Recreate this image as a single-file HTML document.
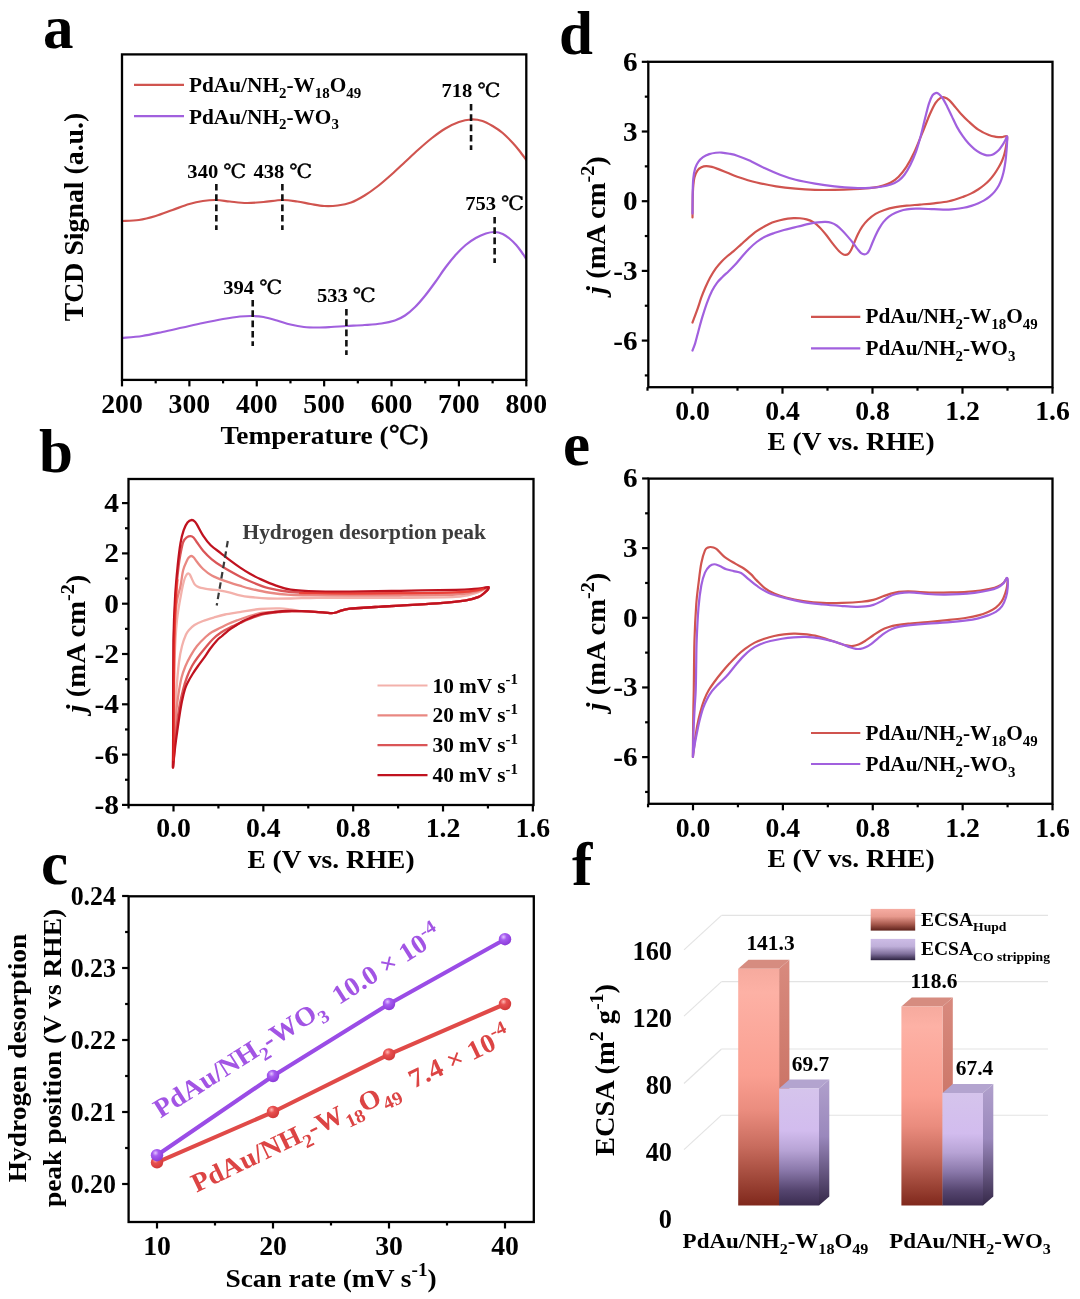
<!DOCTYPE html>
<html lang="en"><head><meta charset="utf-8"><title>Figure</title>
<style>html,body{margin:0;padding:0;background:#fff}svg{display:block}text{font-family:"Liberation Serif", "DejaVu Serif", serif}</style>
</head><body>
<svg width="1080" height="1299" viewBox="0 0 1080 1299">
<rect width="1080" height="1299" fill="#fff"/>
<text transform="translate(43.00 48.30) scale(1.0000 1)" font-size="61.00" text-anchor="start" fill="#000" font-weight="bold" >a</text>
<clipPath id="clipa"><rect x="122.0" y="54.4" width="404.3" height="325.5"/></clipPath>
<g clip-path="url(#clipa)">
<path d="M122.00 221.00C124.81 220.83 133.23 220.83 138.85 220.00C144.46 219.17 150.08 217.67 155.69 216.00C161.31 214.33 166.92 212.00 172.54 210.00C178.15 208.00 184.33 205.50 189.38 204.00C194.44 202.50 198.37 201.67 202.86 201.00C207.35 200.33 211.84 199.92 216.34 200.00C220.83 200.08 224.76 201.00 229.81 201.50C234.87 202.00 241.04 202.92 246.66 203.00C252.27 203.08 257.55 202.50 263.50 202.00C269.46 201.50 276.76 200.08 282.37 200.00C287.99 199.92 292.48 200.83 297.20 201.50C301.91 202.17 306.18 203.25 310.67 204.00C315.17 204.75 319.66 205.75 324.15 206.00C328.64 206.25 333.13 206.08 337.63 205.50C342.12 204.92 346.61 204.17 351.10 202.50C355.60 200.83 360.09 198.25 364.58 195.50C369.07 192.75 373.56 189.50 378.06 186.00C382.55 182.50 387.04 178.50 391.53 174.50C396.03 170.50 400.52 166.17 405.01 162.00C409.50 157.83 413.99 153.50 418.49 149.50C422.98 145.50 427.47 141.50 431.96 138.00C436.46 134.50 440.95 131.17 445.44 128.50C449.93 125.83 454.65 123.50 458.92 122.00C463.18 120.50 467.11 119.67 471.05 119.50C474.98 119.33 478.91 119.92 482.50 121.00C486.09 122.08 489.24 124.00 492.61 126.00C495.98 128.00 499.35 130.17 502.72 133.00C506.08 135.83 510.02 140.00 512.82 143.00C515.63 146.00 517.32 148.17 519.56 151.00C521.81 153.83 525.18 158.50 526.30 160.00" fill="none" stroke="#d0544f" stroke-width="2.20" stroke-linejoin="round" stroke-linecap="round" />
<path d="M122.00 338.00C125.37 337.67 135.48 337.00 142.22 336.00C148.95 335.00 155.69 333.42 162.43 332.00C169.17 330.58 175.91 329.00 182.64 327.50C189.38 326.00 196.12 324.42 202.86 323.00C209.60 321.58 216.90 320.08 223.07 319.00C229.25 317.92 234.98 317.00 239.92 316.50C244.86 316.00 248.79 315.92 252.72 316.00C256.65 316.08 259.46 316.25 263.50 317.00C267.55 317.75 272.49 319.25 276.98 320.50C281.47 321.75 285.97 323.42 290.46 324.50C294.95 325.58 299.44 326.50 303.93 327.00C308.43 327.50 312.92 327.50 317.41 327.50C321.90 327.50 326.06 327.25 330.89 327.00C335.72 326.75 340.77 326.33 346.39 326.00C352.00 325.67 358.74 325.42 364.58 325.00C370.42 324.58 376.37 324.25 381.43 323.50C386.48 322.75 390.97 321.83 394.90 320.50C398.83 319.17 401.64 317.75 405.01 315.50C408.38 313.25 411.75 310.33 415.12 307.00C418.49 303.67 421.86 299.67 425.22 295.50C428.59 291.33 431.96 286.67 435.33 282.00C438.70 277.33 442.07 272.00 445.44 267.50C448.81 263.00 452.18 258.75 455.55 255.00C458.92 251.25 462.29 247.83 465.65 245.00C469.02 242.17 472.39 239.92 475.76 238.00C479.13 236.08 482.73 234.50 485.87 233.50C489.01 232.50 491.82 231.92 494.63 232.00C497.44 232.08 500.25 232.92 502.72 234.00C505.19 235.08 507.21 236.67 509.45 238.50C511.70 240.33 514.17 242.75 516.19 245.00C518.21 247.25 519.90 249.67 521.58 252.00C523.27 254.33 525.51 257.83 526.30 259.00" fill="none" stroke="#a160de" stroke-width="2.20" stroke-linejoin="round" stroke-linecap="round" />
</g>
<line x1="216.34" y1="184.00" x2="216.34" y2="230.00" stroke="#111" stroke-width="2.60" stroke-dasharray="6.6 3.7"/>
<line x1="282.37" y1="184.00" x2="282.37" y2="230.00" stroke="#111" stroke-width="2.60" stroke-dasharray="6.6 3.7"/>
<line x1="471.05" y1="104.00" x2="471.05" y2="150.00" stroke="#111" stroke-width="2.60" stroke-dasharray="6.6 3.7"/>
<line x1="494.63" y1="217.00" x2="494.63" y2="263.00" stroke="#111" stroke-width="2.60" stroke-dasharray="6.6 3.7"/>
<line x1="252.72" y1="300.00" x2="252.72" y2="346.00" stroke="#111" stroke-width="2.60" stroke-dasharray="6.6 3.7"/>
<line x1="346.39" y1="309.00" x2="346.39" y2="355.00" stroke="#111" stroke-width="2.60" stroke-dasharray="6.6 3.7"/>
<text transform="translate(216.84 178.00) scale(1.0550 1)" font-size="19.50" text-anchor="middle" fill="#000" font-weight="bold" >340 <tspan font-weight="normal" stroke="#000" stroke-width="0.35">℃</tspan></text>
<text transform="translate(282.87 178.00) scale(1.0550 1)" font-size="19.50" text-anchor="middle" fill="#000" font-weight="bold" >438 <tspan font-weight="normal" stroke="#000" stroke-width="0.35">℃</tspan></text>
<text transform="translate(471.05 97.00) scale(1.0550 1)" font-size="19.50" text-anchor="middle" fill="#000" font-weight="bold" >718 <tspan font-weight="normal" stroke="#000" stroke-width="0.35">℃</tspan></text>
<text transform="translate(494.63 210.00) scale(1.0550 1)" font-size="19.50" text-anchor="middle" fill="#000" font-weight="bold" >753 <tspan font-weight="normal" stroke="#000" stroke-width="0.35">℃</tspan></text>
<text transform="translate(252.72 294.00) scale(1.0550 1)" font-size="19.50" text-anchor="middle" fill="#000" font-weight="bold" >394 <tspan font-weight="normal" stroke="#000" stroke-width="0.35">℃</tspan></text>
<text transform="translate(346.39 302.00) scale(1.0550 1)" font-size="19.50" text-anchor="middle" fill="#000" font-weight="bold" >533 <tspan font-weight="normal" stroke="#000" stroke-width="0.35">℃</tspan></text>
<line x1="134.00" y1="84.80" x2="184.00" y2="84.80" stroke="#d0544f" stroke-width="2.20" />
<line x1="134.00" y1="116.20" x2="184.00" y2="116.20" stroke="#a160de" stroke-width="2.20" />
<text transform="translate(189.00 92.00) scale(1.0550 1)" font-size="20.20" text-anchor="start" fill="#000" font-weight="bold" >PdAu/NH<tspan dy="5.76" font-size="14.14">2</tspan><tspan dy="-5.76">-W</tspan><tspan dy="5.76" font-size="14.14">18</tspan><tspan dy="-5.76">O</tspan><tspan dy="5.76" font-size="14.14">49</tspan></text>
<text transform="translate(189.00 123.50) scale(1.0550 1)" font-size="20.20" text-anchor="start" fill="#000" font-weight="bold" >PdAu/NH<tspan dy="5.76" font-size="14.14">2</tspan><tspan dy="-5.76">-WO</tspan><tspan dy="5.76" font-size="14.14">3</tspan></text>
<rect x="122.00" y="54.40" width="404.30" height="325.50" fill="none" stroke="#000" stroke-width="2.30"/>
<line x1="122.00" y1="379.90" x2="122.00" y2="386.40" stroke="#000" stroke-width="2.20" />
<line x1="189.38" y1="379.90" x2="189.38" y2="386.40" stroke="#000" stroke-width="2.20" />
<line x1="256.77" y1="379.90" x2="256.77" y2="386.40" stroke="#000" stroke-width="2.20" />
<line x1="324.15" y1="379.90" x2="324.15" y2="386.40" stroke="#000" stroke-width="2.20" />
<line x1="391.53" y1="379.90" x2="391.53" y2="386.40" stroke="#000" stroke-width="2.20" />
<line x1="458.92" y1="379.90" x2="458.92" y2="386.40" stroke="#000" stroke-width="2.20" />
<line x1="526.30" y1="379.90" x2="526.30" y2="386.40" stroke="#000" stroke-width="2.20" />
<line x1="155.69" y1="379.90" x2="155.69" y2="383.40" stroke="#000" stroke-width="2.20" />
<line x1="223.07" y1="379.90" x2="223.07" y2="383.40" stroke="#000" stroke-width="2.20" />
<line x1="290.46" y1="379.90" x2="290.46" y2="383.40" stroke="#000" stroke-width="2.20" />
<line x1="357.84" y1="379.90" x2="357.84" y2="383.40" stroke="#000" stroke-width="2.20" />
<line x1="425.22" y1="379.90" x2="425.22" y2="383.40" stroke="#000" stroke-width="2.20" />
<line x1="492.61" y1="379.90" x2="492.61" y2="383.40" stroke="#000" stroke-width="2.20" />
<text transform="translate(122.00 413.00) scale(1.0550 1)" font-size="26.30" text-anchor="middle" fill="#000" font-weight="bold" >200</text>
<text transform="translate(189.38 413.00) scale(1.0550 1)" font-size="26.30" text-anchor="middle" fill="#000" font-weight="bold" >300</text>
<text transform="translate(256.77 413.00) scale(1.0550 1)" font-size="26.30" text-anchor="middle" fill="#000" font-weight="bold" >400</text>
<text transform="translate(324.15 413.00) scale(1.0550 1)" font-size="26.30" text-anchor="middle" fill="#000" font-weight="bold" >500</text>
<text transform="translate(391.53 413.00) scale(1.0550 1)" font-size="26.30" text-anchor="middle" fill="#000" font-weight="bold" >600</text>
<text transform="translate(458.92 413.00) scale(1.0550 1)" font-size="26.30" text-anchor="middle" fill="#000" font-weight="bold" >700</text>
<text transform="translate(526.30 413.00) scale(1.0550 1)" font-size="26.30" text-anchor="middle" fill="#000" font-weight="bold" >800</text>
<text transform="translate(324.50 443.50) scale(1.0550 1)" font-size="26.00" text-anchor="middle" fill="#000" font-weight="bold" >Temperature (<tspan font-weight="normal" stroke="#000" stroke-width="0.35">℃</tspan>)</text>
<text transform="translate(83.00 217.00) rotate(-90.00) scale(1.0300 1)" font-size="27.00" text-anchor="middle" fill="#000" font-weight="bold" >TCD Signal (a.u.)</text>
<text transform="translate(39.00 471.50) scale(1.0000 1)" font-size="61.00" text-anchor="start" fill="#000" font-weight="bold" >b</text>
<path d="M173.00 767.50C173.15 759.58 173.63 737.92 173.90 720.00C174.17 702.08 174.08 676.67 174.60 660.00C175.12 643.33 175.83 631.40 177.00 620.00C178.17 608.60 180.38 598.30 181.60 591.60C182.82 584.90 183.48 582.60 184.30 579.80C185.12 577.00 185.85 575.88 186.50 574.80C187.15 573.72 187.65 573.35 188.20 573.30C188.75 573.25 189.28 573.78 189.80 574.50C190.32 575.22 190.52 576.00 191.30 577.60C192.08 579.20 193.47 582.62 194.50 584.10C195.53 585.58 196.42 585.87 197.50 586.50C198.58 587.13 198.80 587.40 201.00 587.90C203.20 588.40 207.47 589.05 210.70 589.50C213.93 589.95 217.17 590.07 220.40 590.60C223.63 591.13 226.87 591.90 230.10 592.70C233.33 593.50 236.48 594.68 239.80 595.40C243.12 596.12 245.22 596.48 250.00 597.00C254.78 597.52 261.72 598.25 268.50 598.50C275.28 598.75 282.67 598.62 290.70 598.50C298.73 598.38 306.82 597.92 316.70 597.80C326.58 597.68 336.12 597.80 350.00 597.80C363.88 597.80 382.40 597.95 400.00 597.80C417.60 597.65 443.27 597.60 455.60 596.90C467.93 596.20 469.38 594.75 474.00 593.60C478.62 592.45 480.90 591.08 483.30 590.00C485.70 588.92 487.65 587.17 488.40 587.10C489.15 587.03 488.33 588.75 487.80 589.60C487.27 590.45 486.72 590.98 485.20 592.20C483.68 593.42 482.10 595.50 478.70 596.90C475.30 598.30 471.75 599.53 464.80 600.60C457.85 601.67 447.80 602.47 437.00 603.30C426.20 604.13 409.73 605.02 400.00 605.60C390.27 606.18 385.27 606.40 378.60 606.80C371.93 607.20 364.77 607.68 360.00 608.00C355.23 608.32 353.17 608.27 350.00 608.70C346.83 609.13 343.33 609.97 341.00 610.60C338.67 611.23 337.58 612.07 336.00 612.50C334.42 612.93 333.33 613.18 331.50 613.20C329.67 613.22 327.75 612.83 325.00 612.60C322.25 612.37 318.83 612.03 315.00 611.80C311.17 611.57 306.17 611.62 302.00 611.20C297.83 610.78 293.73 609.77 290.00 609.30C286.27 608.83 284.60 608.45 279.60 608.40C274.60 608.35 266.63 608.38 260.00 609.00C253.37 609.62 245.63 611.18 239.80 612.10C233.97 613.02 229.32 613.60 225.00 614.50C220.68 615.40 217.57 616.42 213.90 617.50C210.23 618.58 206.23 619.75 203.00 621.00C199.77 622.25 196.83 623.50 194.50 625.00C192.17 626.50 190.43 628.37 189.00 630.00C187.57 631.63 187.07 632.13 185.90 634.80C184.73 637.47 183.15 641.47 182.00 646.00C180.85 650.53 179.92 654.67 179.00 662.00C178.08 669.33 177.25 678.67 176.50 690.00C175.75 701.33 175.08 717.08 174.50 730.00C173.92 742.92 173.25 761.25 173.00 767.50" fill="none" stroke="#f3b1ab" stroke-width="2.30" stroke-linejoin="round" stroke-linecap="round" />
<path d="M173.00 767.50C173.12 759.58 173.50 741.25 173.70 720.00C173.90 698.75 173.73 659.33 174.20 640.00C174.67 620.67 175.45 613.00 176.50 604.00C177.55 595.00 179.38 591.67 180.50 586.00C181.62 580.33 182.12 574.27 183.20 570.00C184.28 565.73 186.03 562.52 187.00 560.40C187.97 558.28 188.28 558.03 189.00 557.30C189.72 556.57 190.50 555.97 191.30 556.00C192.10 556.03 192.90 556.58 193.80 557.50C194.70 558.42 195.15 559.58 196.70 561.50C198.25 563.42 200.58 566.67 203.10 569.00C205.62 571.33 208.20 573.52 211.80 575.50C215.40 577.48 220.03 579.20 224.70 580.90C229.37 582.60 235.58 584.42 239.80 585.70C244.02 586.98 245.22 587.47 250.00 588.60C254.78 589.73 261.72 591.47 268.50 592.50C275.28 593.53 282.67 594.33 290.70 594.80C298.73 595.27 306.82 595.18 316.70 595.30C326.58 595.42 336.12 595.47 350.00 595.50C363.88 595.53 382.40 595.65 400.00 595.50C417.60 595.35 443.27 595.17 455.60 594.60C467.93 594.03 469.38 592.97 474.00 592.10C478.62 591.23 480.90 590.23 483.30 589.40C485.70 588.57 487.65 587.07 488.40 587.10C489.15 587.13 488.33 588.75 487.80 589.60C487.27 590.45 486.72 590.98 485.20 592.20C483.68 593.42 482.10 595.50 478.70 596.90C475.30 598.30 471.75 599.53 464.80 600.60C457.85 601.67 447.80 602.47 437.00 603.30C426.20 604.13 409.73 605.02 400.00 605.60C390.27 606.18 385.27 606.40 378.60 606.80C371.93 607.20 364.77 607.68 360.00 608.00C355.23 608.32 353.17 608.27 350.00 608.70C346.83 609.13 343.33 609.97 341.00 610.60C338.67 611.23 337.58 612.07 336.00 612.50C334.42 612.93 333.33 613.18 331.50 613.20C329.67 613.22 327.75 612.83 325.00 612.60C322.25 612.37 318.83 612.03 315.00 611.80C311.17 611.57 306.50 611.30 302.00 611.20C297.50 611.10 292.50 611.12 288.00 611.20C283.50 611.28 279.50 611.40 275.00 611.70C270.50 612.00 265.50 612.20 261.00 613.00C256.50 613.80 252.00 615.27 248.00 616.50C244.00 617.73 240.33 619.15 237.00 620.40C233.67 621.65 230.77 622.77 228.00 624.00C225.23 625.23 223.07 626.47 220.40 627.80C217.73 629.13 214.47 630.47 212.00 632.00C209.53 633.53 208.10 634.67 205.60 637.00C203.10 639.33 199.48 642.90 197.00 646.00C194.52 649.10 192.62 652.27 190.70 655.60C188.78 658.93 187.03 662.30 185.50 666.00C183.97 669.70 182.67 673.13 181.50 677.80C180.33 682.47 179.42 687.97 178.50 694.00C177.58 700.03 176.67 706.00 176.00 714.00C175.33 722.00 175.00 733.08 174.50 742.00C174.00 750.92 173.25 763.25 173.00 767.50" fill="none" stroke="#e98882" stroke-width="2.30" stroke-linejoin="round" stroke-linecap="round" />
<path d="M173.00 767.50C173.07 759.58 173.27 741.25 173.40 720.00C173.53 698.75 173.43 660.50 173.80 640.00C174.17 619.50 174.82 609.17 175.60 597.00C176.38 584.83 177.68 574.18 178.50 567.00C179.32 559.82 179.72 558.07 180.50 553.90C181.28 549.73 182.15 544.77 183.20 542.00C184.25 539.23 185.55 538.28 186.80 537.30C188.05 536.32 189.58 536.07 190.70 536.10C191.82 536.13 192.50 536.52 193.50 537.50C194.50 538.48 195.10 539.80 196.70 542.00C198.30 544.20 200.58 547.82 203.10 550.70C205.62 553.58 208.57 556.62 211.80 559.30C215.03 561.98 217.83 563.93 222.50 566.80C227.17 569.67 235.22 574.08 239.80 576.50C244.38 578.92 245.22 579.35 250.00 581.30C254.78 583.25 261.72 586.42 268.50 588.20C275.28 589.98 282.67 591.20 290.70 592.00C298.73 592.80 306.82 592.78 316.70 593.00C326.58 593.22 336.12 593.27 350.00 593.30C363.88 593.33 382.40 593.37 400.00 593.20C417.60 593.03 443.27 592.73 455.60 592.30C467.93 591.87 469.38 591.20 474.00 590.60C478.62 590.00 480.90 589.28 483.30 588.70C485.70 588.12 487.65 586.95 488.40 587.10C489.15 587.25 488.33 588.75 487.80 589.60C487.27 590.45 486.72 590.98 485.20 592.20C483.68 593.42 482.10 595.50 478.70 596.90C475.30 598.30 471.75 599.53 464.80 600.60C457.85 601.67 447.80 602.47 437.00 603.30C426.20 604.13 409.73 605.02 400.00 605.60C390.27 606.18 385.27 606.40 378.60 606.80C371.93 607.20 364.77 607.68 360.00 608.00C355.23 608.32 353.17 608.27 350.00 608.70C346.83 609.13 343.33 609.97 341.00 610.60C338.67 611.23 337.58 612.07 336.00 612.50C334.42 612.93 333.33 613.18 331.50 613.20C329.67 613.22 327.75 612.83 325.00 612.60C322.25 612.37 318.83 612.03 315.00 611.80C311.17 611.57 306.17 611.27 302.00 611.20C297.83 611.13 293.67 611.27 290.00 611.40C286.33 611.53 284.17 611.57 280.00 612.00C275.83 612.43 269.67 613.00 265.00 614.00C260.33 615.00 256.17 616.50 252.00 618.00C247.83 619.50 243.67 621.42 240.00 623.00C236.33 624.58 233.17 625.92 230.00 627.50C226.83 629.08 223.83 630.58 221.00 632.50C218.17 634.42 215.50 636.58 213.00 639.00C210.50 641.42 208.50 644.00 206.00 647.00C203.50 650.00 200.33 653.83 198.00 657.00C195.67 660.17 193.83 662.67 192.00 666.00C190.17 669.33 188.50 673.00 187.00 677.00C185.50 681.00 184.25 685.17 183.00 690.00C181.75 694.83 180.58 699.67 179.50 706.00C178.42 712.33 177.33 720.67 176.50 728.00C175.67 735.33 175.08 743.42 174.50 750.00C173.92 756.58 173.25 764.58 173.00 767.50" fill="none" stroke="#da5557" stroke-width="2.30" stroke-linejoin="round" stroke-linecap="round" />
<path d="M173.00 767.50C173.03 759.58 173.12 741.25 173.20 720.00C173.28 698.75 173.18 660.50 173.50 640.00C173.82 619.50 174.38 609.55 175.10 597.00C175.82 584.45 176.90 573.68 177.80 564.70C178.70 555.72 179.52 548.85 180.50 543.10C181.48 537.35 182.53 533.63 183.70 530.20C184.87 526.77 186.15 524.20 187.50 522.50C188.85 520.80 190.55 520.12 191.80 520.00C193.05 519.88 194.02 520.82 195.00 521.80C195.98 522.78 196.35 523.60 197.70 525.90C199.05 528.20 200.93 532.37 203.10 535.60C205.27 538.83 207.82 542.43 210.70 545.30C213.58 548.17 217.17 550.28 220.40 552.80C223.63 555.32 226.87 557.97 230.10 560.40C233.33 562.83 236.48 565.17 239.80 567.40C243.12 569.63 246.47 571.80 250.00 573.80C253.53 575.80 256.67 577.43 261.00 579.40C265.33 581.37 271.05 583.90 276.00 585.60C280.95 587.30 283.92 588.63 290.70 589.60C297.48 590.57 306.82 591.07 316.70 591.40C326.58 591.73 336.12 591.70 350.00 591.60C363.88 591.50 382.40 591.08 400.00 590.80C417.60 590.52 443.27 590.20 455.60 589.90C467.93 589.60 469.38 589.32 474.00 589.00C478.62 588.68 480.90 588.32 483.30 588.00C485.70 587.68 487.65 586.83 488.40 587.10C489.15 587.37 488.33 588.75 487.80 589.60C487.27 590.45 486.72 590.98 485.20 592.20C483.68 593.42 482.10 595.50 478.70 596.90C475.30 598.30 471.75 599.53 464.80 600.60C457.85 601.67 447.80 602.47 437.00 603.30C426.20 604.13 409.73 605.02 400.00 605.60C390.27 606.18 385.27 606.40 378.60 606.80C371.93 607.20 364.77 607.68 360.00 608.00C355.23 608.32 353.17 608.27 350.00 608.70C346.83 609.13 343.33 609.97 341.00 610.60C338.67 611.23 337.58 612.07 336.00 612.50C334.42 612.93 333.33 613.18 331.50 613.20C329.67 613.22 327.75 612.83 325.00 612.60C322.25 612.37 318.83 612.03 315.00 611.80C311.17 611.57 306.33 611.33 302.00 611.20C297.67 611.07 293.50 610.87 289.00 611.00C284.50 611.13 279.67 611.50 275.00 612.00C270.33 612.50 265.17 613.00 261.00 614.00C256.83 615.00 253.07 616.78 250.00 618.00C246.93 619.22 245.10 619.97 242.60 621.30C240.10 622.63 237.17 624.62 235.00 626.00C232.83 627.38 231.77 627.93 229.60 629.60C227.43 631.27 224.15 634.15 222.00 636.00C219.85 637.85 218.70 638.53 216.70 640.70C214.70 642.87 211.85 646.52 210.00 649.00C208.15 651.48 207.60 652.77 205.60 655.60C203.60 658.43 200.17 662.93 198.00 666.00C195.83 669.07 194.27 671.33 192.60 674.00C190.93 676.67 189.27 679.50 188.00 682.00C186.73 684.50 186.00 685.83 185.00 689.00C184.00 692.17 182.90 696.70 182.00 701.00C181.10 705.30 180.43 709.47 179.60 714.80C178.77 720.13 177.77 727.47 177.00 733.00C176.23 738.53 175.67 742.25 175.00 748.00C174.33 753.75 173.33 764.25 173.00 767.50" fill="none" stroke="#c0121f" stroke-width="2.30" stroke-linejoin="round" stroke-linecap="round" />
<path d="M300.00 593.20C308.33 593.27 333.33 593.57 350.00 593.60C366.67 593.63 382.40 593.60 400.00 593.40C417.60 593.20 443.27 592.87 455.60 592.40C467.93 591.93 469.38 591.22 474.00 590.60C478.62 589.98 481.75 589.02 483.30 588.70" fill="none" stroke="#f03a2c" stroke-width="2.20" stroke-linejoin="round" stroke-linecap="round" opacity="0.75"/>
<path d="M173.40 760.00C173.48 750.00 173.73 718.33 173.90 700.00C174.07 681.67 174.12 665.00 174.40 650.00C174.68 635.00 175.07 621.67 175.60 610.00C176.13 598.33 177.27 585.00 177.60 580.00" fill="none" stroke="#ee3026" stroke-width="2.00" stroke-linejoin="round" stroke-linecap="round" opacity="0.7"/>
<line x1="227.80" y1="541.00" x2="216.70" y2="605.50" stroke="#3a3a3a" stroke-width="2.20" stroke-dasharray="6.5 4"/>
<text transform="translate(242.50 539.00) scale(1.0550 1)" font-size="20.30" text-anchor="start" fill="#3c3c3c" font-weight="bold" >Hydrogen desorption peak</text>
<line x1="377.50" y1="685.50" x2="427.50" y2="685.50" stroke="#f3b1ab" stroke-width="2.20" />
<text transform="translate(432.50 692.50) scale(1.0550 1)" font-size="20.20" text-anchor="start" fill="#000" font-weight="bold" >10 mV s<tspan dy="-8.48" font-size="14.14">-1</tspan></text>
<line x1="377.50" y1="715.35" x2="427.50" y2="715.35" stroke="#e98882" stroke-width="2.20" />
<text transform="translate(432.50 722.35) scale(1.0550 1)" font-size="20.20" text-anchor="start" fill="#000" font-weight="bold" >20 mV s<tspan dy="-8.48" font-size="14.14">-1</tspan></text>
<line x1="377.50" y1="745.20" x2="427.50" y2="745.20" stroke="#da5557" stroke-width="2.20" />
<text transform="translate(432.50 752.20) scale(1.0550 1)" font-size="20.20" text-anchor="start" fill="#000" font-weight="bold" >30 mV s<tspan dy="-8.48" font-size="14.14">-1</tspan></text>
<line x1="377.50" y1="775.05" x2="427.50" y2="775.05" stroke="#c0121f" stroke-width="2.20" />
<text transform="translate(432.50 782.05) scale(1.0550 1)" font-size="20.20" text-anchor="start" fill="#000" font-weight="bold" >40 mV s<tspan dy="-8.48" font-size="14.14">-1</tspan></text>
<rect x="128.50" y="479.00" width="405.00" height="326.00" fill="none" stroke="#000" stroke-width="2.30"/>
<line x1="173.50" y1="805.00" x2="173.50" y2="811.50" stroke="#000" stroke-width="2.20" />
<line x1="263.34" y1="805.00" x2="263.34" y2="811.50" stroke="#000" stroke-width="2.20" />
<line x1="353.18" y1="805.00" x2="353.18" y2="811.50" stroke="#000" stroke-width="2.20" />
<line x1="443.02" y1="805.00" x2="443.02" y2="811.50" stroke="#000" stroke-width="2.20" />
<line x1="532.86" y1="805.00" x2="532.86" y2="811.50" stroke="#000" stroke-width="2.20" />
<line x1="128.58" y1="805.00" x2="128.58" y2="808.50" stroke="#000" stroke-width="2.20" />
<line x1="218.42" y1="805.00" x2="218.42" y2="808.50" stroke="#000" stroke-width="2.20" />
<line x1="308.26" y1="805.00" x2="308.26" y2="808.50" stroke="#000" stroke-width="2.20" />
<line x1="398.10" y1="805.00" x2="398.10" y2="808.50" stroke="#000" stroke-width="2.20" />
<line x1="487.94" y1="805.00" x2="487.94" y2="808.50" stroke="#000" stroke-width="2.20" />
<line x1="128.50" y1="804.90" x2="122.00" y2="804.90" stroke="#000" stroke-width="2.20" />
<line x1="128.50" y1="754.60" x2="122.00" y2="754.60" stroke="#000" stroke-width="2.20" />
<line x1="128.50" y1="704.30" x2="122.00" y2="704.30" stroke="#000" stroke-width="2.20" />
<line x1="128.50" y1="654.00" x2="122.00" y2="654.00" stroke="#000" stroke-width="2.20" />
<line x1="128.50" y1="603.70" x2="122.00" y2="603.70" stroke="#000" stroke-width="2.20" />
<line x1="128.50" y1="553.40" x2="122.00" y2="553.40" stroke="#000" stroke-width="2.20" />
<line x1="128.50" y1="503.10" x2="122.00" y2="503.10" stroke="#000" stroke-width="2.20" />
<line x1="128.50" y1="779.75" x2="125.00" y2="779.75" stroke="#000" stroke-width="2.20" />
<line x1="128.50" y1="729.45" x2="125.00" y2="729.45" stroke="#000" stroke-width="2.20" />
<line x1="128.50" y1="679.15" x2="125.00" y2="679.15" stroke="#000" stroke-width="2.20" />
<line x1="128.50" y1="628.85" x2="125.00" y2="628.85" stroke="#000" stroke-width="2.20" />
<line x1="128.50" y1="578.55" x2="125.00" y2="578.55" stroke="#000" stroke-width="2.20" />
<line x1="128.50" y1="528.25" x2="125.00" y2="528.25" stroke="#000" stroke-width="2.20" />
<text transform="translate(173.50 837.00) scale(1.0550 1)" font-size="26.30" text-anchor="middle" fill="#000" font-weight="bold" >0.0</text>
<text transform="translate(263.34 837.00) scale(1.0550 1)" font-size="26.30" text-anchor="middle" fill="#000" font-weight="bold" >0.4</text>
<text transform="translate(353.18 837.00) scale(1.0550 1)" font-size="26.30" text-anchor="middle" fill="#000" font-weight="bold" >0.8</text>
<text transform="translate(443.02 837.00) scale(1.0550 1)" font-size="26.30" text-anchor="middle" fill="#000" font-weight="bold" >1.2</text>
<text transform="translate(532.86 837.00) scale(1.0550 1)" font-size="26.30" text-anchor="middle" fill="#000" font-weight="bold" >1.6</text>
<text transform="translate(119.00 813.90) scale(1.1200 1)" font-size="26.30" text-anchor="end" fill="#000" font-weight="bold" >-8</text>
<text transform="translate(119.00 763.60) scale(1.1200 1)" font-size="26.30" text-anchor="end" fill="#000" font-weight="bold" >-6</text>
<text transform="translate(119.00 713.30) scale(1.1200 1)" font-size="26.30" text-anchor="end" fill="#000" font-weight="bold" >-4</text>
<text transform="translate(119.00 663.00) scale(1.1200 1)" font-size="26.30" text-anchor="end" fill="#000" font-weight="bold" >-2</text>
<text transform="translate(119.00 612.70) scale(1.1200 1)" font-size="26.30" text-anchor="end" fill="#000" font-weight="bold" >0</text>
<text transform="translate(119.00 562.40) scale(1.1200 1)" font-size="26.30" text-anchor="end" fill="#000" font-weight="bold" >2</text>
<text transform="translate(119.00 512.10) scale(1.1200 1)" font-size="26.30" text-anchor="end" fill="#000" font-weight="bold" >4</text>
<text transform="translate(331.00 868.00) scale(1.0550 1)" font-size="26.00" text-anchor="middle" fill="#000" font-weight="bold" >E (V vs. RHE)</text>
<text transform="translate(85.30 643.50) rotate(-90.00) scale(1.0550 1)" font-size="27.20" text-anchor="middle" fill="#000" font-weight="bold" ><tspan font-style="italic">j</tspan> (mA cm<tspan dy="-11.42" font-size="19.04">-2</tspan><tspan dy="11.42">)</tspan></text>
<text transform="translate(41.00 884.00) scale(1.0000 1)" font-size="61.00" text-anchor="start" fill="#000" font-weight="bold" >c</text>
<defs><radialGradient id="gpur" cx="0.38" cy="0.32" r="0.7"><stop offset="0" stop-color="#e2c4ff"/><stop offset="0.35" stop-color="#a65cf0"/><stop offset="1" stop-color="#8a3ad8"/></radialGradient><radialGradient id="gred" cx="0.38" cy="0.32" r="0.7"><stop offset="0" stop-color="#ffb8b4"/><stop offset="0.35" stop-color="#e85050"/><stop offset="1" stop-color="#d03838"/></radialGradient></defs>
<polyline points="157.00,1162.40 273.00,1112.00 389.00,1054.40 505.00,1004.00" fill="none" stroke="#e04a48" stroke-width="4.1" stroke-linejoin="round" stroke-linecap="round"/>
<circle cx="157.00" cy="1162.40" r="6.2" fill="url(#gred)"/>
<circle cx="273.00" cy="1112.00" r="6.2" fill="url(#gred)"/>
<circle cx="389.00" cy="1054.40" r="6.2" fill="url(#gred)"/>
<circle cx="505.00" cy="1004.00" r="6.2" fill="url(#gred)"/>
<polyline points="157.00,1155.20 273.00,1076.00 389.00,1004.00 505.00,939.20" fill="none" stroke="#9a4ce6" stroke-width="4.1" stroke-linejoin="round" stroke-linecap="round"/>
<circle cx="157.00" cy="1155.20" r="6.2" fill="url(#gpur)"/>
<circle cx="273.00" cy="1076.00" r="6.2" fill="url(#gpur)"/>
<circle cx="389.00" cy="1004.00" r="6.2" fill="url(#gpur)"/>
<circle cx="505.00" cy="939.20" r="6.2" fill="url(#gpur)"/>
<text transform="translate(160.50 1118.50) rotate(-32.40) scale(1.0550 1)" font-size="26.60" text-anchor="start" fill="#a254e4" font-weight="bold" xml:space="preserve" style="white-space:pre">PdAu/NH<tspan dy="7.58" font-size="18.62">2</tspan><tspan dy="-7.58">-WO</tspan><tspan dy="7.58" font-size="18.62">3</tspan><tspan dy="-7.58">  10.0 × 10</tspan><tspan dy="-11.17" font-size="18.62">-4</tspan></text>
<text transform="translate(196.50 1192.80) rotate(-25.60) scale(1.0550 1)" font-size="26.60" text-anchor="start" fill="#dc4444" font-weight="bold" xml:space="preserve" style="white-space:pre">PdAu/NH<tspan dy="7.58" font-size="18.62">2</tspan><tspan dy="-7.58">-W</tspan><tspan dy="7.58" font-size="18.62">18</tspan><tspan dy="-7.58">O</tspan><tspan dy="7.58" font-size="18.62">49</tspan><tspan dy="-7.58">  7.4 × 10</tspan><tspan dy="-11.17" font-size="18.62">-4</tspan></text>
<rect x="128.60" y="896.30" width="405.20" height="325.70" fill="none" stroke="#000" stroke-width="2.30"/>
<line x1="157.00" y1="1222.00" x2="157.00" y2="1228.50" stroke="#000" stroke-width="2.20" />
<line x1="273.00" y1="1222.00" x2="273.00" y2="1228.50" stroke="#000" stroke-width="2.20" />
<line x1="389.00" y1="1222.00" x2="389.00" y2="1228.50" stroke="#000" stroke-width="2.20" />
<line x1="505.00" y1="1222.00" x2="505.00" y2="1228.50" stroke="#000" stroke-width="2.20" />
<line x1="215.00" y1="1222.00" x2="215.00" y2="1225.50" stroke="#000" stroke-width="2.20" />
<line x1="331.00" y1="1222.00" x2="331.00" y2="1225.50" stroke="#000" stroke-width="2.20" />
<line x1="447.00" y1="1222.00" x2="447.00" y2="1225.50" stroke="#000" stroke-width="2.20" />
<line x1="128.60" y1="1184.00" x2="122.10" y2="1184.00" stroke="#000" stroke-width="2.20" />
<line x1="128.60" y1="1112.00" x2="122.10" y2="1112.00" stroke="#000" stroke-width="2.20" />
<line x1="128.60" y1="1040.00" x2="122.10" y2="1040.00" stroke="#000" stroke-width="2.20" />
<line x1="128.60" y1="968.00" x2="122.10" y2="968.00" stroke="#000" stroke-width="2.20" />
<line x1="128.60" y1="896.00" x2="122.10" y2="896.00" stroke="#000" stroke-width="2.20" />
<line x1="128.60" y1="1148.00" x2="125.10" y2="1148.00" stroke="#000" stroke-width="2.20" />
<line x1="128.60" y1="1076.00" x2="125.10" y2="1076.00" stroke="#000" stroke-width="2.20" />
<line x1="128.60" y1="1004.00" x2="125.10" y2="1004.00" stroke="#000" stroke-width="2.20" />
<line x1="128.60" y1="932.00" x2="125.10" y2="932.00" stroke="#000" stroke-width="2.20" />
<text transform="translate(157.00 1254.60) scale(1.0550 1)" font-size="26.30" text-anchor="middle" fill="#000" font-weight="bold" >10</text>
<text transform="translate(273.00 1254.60) scale(1.0550 1)" font-size="26.30" text-anchor="middle" fill="#000" font-weight="bold" >20</text>
<text transform="translate(389.00 1254.60) scale(1.0550 1)" font-size="26.30" text-anchor="middle" fill="#000" font-weight="bold" >30</text>
<text transform="translate(505.00 1254.60) scale(1.0550 1)" font-size="26.30" text-anchor="middle" fill="#000" font-weight="bold" >40</text>
<text transform="translate(116.00 1192.50) scale(0.9850 1)" font-size="26.30" text-anchor="end" fill="#000" font-weight="bold" >0.20</text>
<text transform="translate(116.00 1120.50) scale(0.9850 1)" font-size="26.30" text-anchor="end" fill="#000" font-weight="bold" >0.21</text>
<text transform="translate(116.00 1048.50) scale(0.9850 1)" font-size="26.30" text-anchor="end" fill="#000" font-weight="bold" >0.22</text>
<text transform="translate(116.00 976.50) scale(0.9850 1)" font-size="26.30" text-anchor="end" fill="#000" font-weight="bold" >0.23</text>
<text transform="translate(116.00 904.50) scale(0.9850 1)" font-size="26.30" text-anchor="end" fill="#000" font-weight="bold" >0.24</text>
<text transform="translate(331.00 1287.00) scale(1.0550 1)" font-size="26.00" text-anchor="middle" fill="#000" font-weight="bold" >Scan rate (mV s<tspan dy="-10.92" font-size="18.20">-1</tspan><tspan dy="10.92">)</tspan></text>
<text transform="translate(26.00 1058.00) rotate(-90.00) scale(1.0550 1)" font-size="26.00" text-anchor="middle" fill="#000" font-weight="bold" >Hydrogen desorption</text>
<text transform="translate(61.00 1058.00) rotate(-90.00) scale(1.0550 1)" font-size="26.00" text-anchor="middle" fill="#000" font-weight="bold" >peak position (V vs RHE)</text>
<text transform="translate(559.00 54.00) scale(1.0000 1)" font-size="61.00" text-anchor="start" fill="#000" font-weight="bold" >d</text>
<path d="M692.50 217.50C692.53 214.58 692.60 204.86 692.69 200.00C692.79 195.14 692.79 192.09 693.08 188.33C693.38 184.57 693.70 180.43 694.44 177.44C695.19 174.46 696.39 172.13 697.56 170.44C698.72 168.76 700.02 168.05 701.44 167.33C702.87 166.62 704.36 166.23 706.11 166.17C707.86 166.10 710.00 166.49 711.94 166.94C713.89 167.40 715.19 167.92 717.78 168.89C720.37 169.86 724.26 171.48 727.50 172.78C730.74 174.07 732.36 175.05 737.22 176.67C742.08 178.29 750.19 180.88 756.67 182.50C763.15 184.12 769.63 185.35 776.11 186.39C782.59 187.43 789.07 188.14 795.56 188.72C802.04 189.31 808.52 189.69 815.00 189.89C821.48 190.08 827.96 190.02 834.44 189.89C840.93 189.76 847.41 189.50 853.89 189.11C860.37 188.72 868.47 188.14 873.33 187.56C878.19 186.97 880.14 186.45 883.06 185.61C885.97 184.77 888.24 183.99 890.83 182.50C893.43 181.01 896.02 179.26 898.61 176.67C901.20 174.07 903.80 170.96 906.39 166.94C908.98 162.93 911.57 158.06 914.17 152.56C916.76 147.05 919.35 140.24 921.94 133.89C924.54 127.54 927.45 119.63 929.72 114.44C931.99 109.26 933.81 105.50 935.56 102.78C937.31 100.06 938.80 99.02 940.22 98.11C941.65 97.20 942.62 97.01 944.11 97.33C945.60 97.66 947.35 98.50 949.17 100.06C950.98 101.61 953.06 104.40 955.00 106.67C956.94 108.94 958.56 111.20 960.83 113.67C963.10 116.13 965.69 118.79 968.61 121.44C971.53 124.10 974.96 127.34 978.33 129.61C981.70 131.88 985.92 133.86 988.83 135.06C991.75 136.25 993.69 136.45 995.83 136.81C997.97 137.16 999.79 137.25 1001.67 137.19C1003.55 137.14 1006.37 135.10 1007.11 136.49C1007.86 137.89 1006.59 142.63 1006.14 145.56C1005.69 148.49 1005.07 151.54 1004.39 154.07C1003.71 156.60 1002.98 158.56 1002.06 160.72C1001.13 162.88 1000.06 164.88 998.83 167.02C997.60 169.16 996.21 171.40 994.67 173.56C993.12 175.71 991.32 178.06 989.57 179.97C987.82 181.88 986.02 183.48 984.17 185.03C982.31 186.58 980.59 187.87 978.45 189.27C976.31 190.66 973.80 192.16 971.33 193.39C968.86 194.62 967.39 195.34 963.63 196.66C959.88 197.97 953.76 200.18 948.82 201.28C943.88 202.39 938.80 202.75 934.00 203.31C929.20 203.86 924.56 204.19 920.00 204.59C915.44 204.98 910.74 205.24 906.66 205.68C902.58 206.11 899.25 206.48 895.54 207.19C891.83 207.91 887.75 208.85 884.42 209.96C881.09 211.06 878.32 212.18 875.55 213.84C872.78 215.51 870.00 217.82 867.77 219.95C865.55 222.08 863.88 224.23 862.21 226.64C860.55 229.05 859.07 231.82 857.78 234.42C856.48 237.01 855.55 239.60 854.43 242.19C853.32 244.79 852.11 248.03 851.09 249.97C850.07 251.92 849.25 253.03 848.33 253.86C847.40 254.69 846.45 254.90 845.53 254.95C844.60 255.00 843.88 254.82 842.77 254.17C841.66 253.52 840.45 252.69 838.88 251.06C837.30 249.43 835.35 247.00 833.32 244.41C831.28 241.82 828.89 238.29 826.67 235.51C824.44 232.72 822.20 229.95 819.98 227.73C817.75 225.50 815.55 223.55 813.33 222.17C811.10 220.78 808.86 220.05 806.64 219.41C804.42 218.76 802.16 218.50 799.99 218.28C797.82 218.06 795.65 218.02 793.61 218.08C791.58 218.15 790.05 218.31 787.78 218.67C785.51 219.02 782.59 219.57 780.00 220.22C777.41 220.87 774.81 221.52 772.22 222.56C769.63 223.59 767.04 225.02 764.44 226.44C761.85 227.87 759.26 229.30 756.67 231.11C754.07 232.93 751.48 235.13 748.89 237.33C746.30 239.54 743.70 242.00 741.11 244.33C738.52 246.67 735.60 249.39 733.33 251.33C731.06 253.28 729.44 254.31 727.50 256.00C725.56 257.69 723.61 259.37 721.67 261.44C719.72 263.52 717.78 265.72 715.83 268.44C713.89 271.17 711.75 274.60 710.00 277.78C708.25 280.95 706.76 284.26 705.33 287.50C703.91 290.74 702.74 293.66 701.44 297.22C700.15 300.79 699.05 304.68 697.56 308.89C696.06 313.10 693.34 320.23 692.50 322.50" fill="none" stroke="#d0544f" stroke-width="2.20" stroke-linejoin="round" stroke-linecap="round" />
<path d="M692.50 213.61C692.53 210.05 692.56 198.06 692.69 192.22C692.82 186.39 692.86 182.63 693.28 178.61C693.70 174.59 694.38 170.90 695.22 168.11C696.06 165.32 697.04 163.70 698.33 161.89C699.63 160.07 701.19 158.52 703.00 157.22C704.81 155.93 707.08 154.86 709.22 154.11C711.36 153.37 713.76 153.01 715.83 152.75C717.91 152.49 719.40 152.39 721.67 152.56C723.94 152.72 726.85 153.20 729.44 153.72C732.04 154.24 733.98 154.56 737.22 155.67C740.46 156.77 744.35 158.26 748.89 160.33C753.43 162.41 759.26 165.71 764.44 168.11C769.63 170.51 774.81 172.78 780.00 174.72C785.19 176.67 789.72 178.29 795.56 179.78C801.39 181.27 808.52 182.56 815.00 183.67C821.48 184.77 827.96 185.68 834.44 186.39C840.93 187.10 848.06 187.69 853.89 187.94C859.72 188.20 864.91 188.14 869.44 187.94C873.98 187.75 877.55 187.36 881.11 186.78C884.68 186.19 887.92 185.48 890.83 184.44C893.75 183.41 896.34 182.18 898.61 180.56C900.88 178.94 902.50 177.31 904.44 174.72C906.39 172.13 908.33 168.89 910.28 165.00C912.22 161.11 914.36 156.25 916.11 151.39C917.86 146.53 919.29 141.34 920.78 135.83C922.27 130.32 923.69 123.71 925.06 118.33C926.42 112.95 927.71 107.38 928.94 103.56C930.18 99.73 931.34 97.14 932.44 95.39C933.55 93.64 934.52 93.31 935.56 93.06C936.59 92.80 937.50 92.99 938.67 93.83C939.83 94.68 941.13 95.97 942.56 98.11C943.98 100.25 945.67 103.62 947.22 106.67C948.78 109.71 950.27 113.02 951.89 116.39C953.51 119.76 955.13 123.58 956.94 126.89C958.76 130.19 960.83 133.44 962.78 136.22C964.72 139.01 966.67 141.47 968.61 143.61C970.56 145.75 972.50 147.50 974.44 149.06C976.39 150.61 978.53 151.97 980.28 152.94C982.03 153.92 983.58 154.47 984.94 154.89C986.31 155.31 987.21 155.50 988.44 155.47C989.68 155.44 991.10 155.18 992.33 154.69C993.56 154.21 994.67 153.43 995.83 152.56C997.00 151.68 998.23 150.68 999.33 149.44C1000.44 148.21 1001.47 146.66 1002.44 145.17C1003.42 143.68 1004.39 141.93 1005.17 140.50C1005.94 139.07 1006.82 135.77 1007.11 136.61C1007.40 137.45 1007.12 142.03 1006.92 145.56C1006.71 149.08 1006.22 154.40 1005.87 157.77C1005.51 161.14 1005.18 163.31 1004.78 165.78C1004.38 168.25 1004.01 170.31 1003.46 172.58C1002.90 174.85 1002.24 177.23 1001.47 179.39C1000.70 181.55 999.96 183.49 998.83 185.53C997.69 187.57 996.21 189.79 994.67 191.64C993.12 193.49 991.32 195.20 989.57 196.66C987.82 198.11 986.02 199.31 984.17 200.39C982.31 201.47 980.59 202.24 978.45 203.15C976.31 204.06 973.80 205.06 971.33 205.83C968.86 206.60 967.39 207.15 963.63 207.78C959.88 208.41 953.76 209.37 948.82 209.61C943.88 209.84 938.80 209.33 934.00 209.18C929.20 209.03 923.82 208.78 920.00 208.71C916.18 208.65 913.88 208.58 911.09 208.79C908.31 209.00 905.91 209.29 903.32 209.96C900.72 210.62 897.94 211.64 895.54 212.76C893.13 213.87 890.92 215.08 888.89 216.64C886.85 218.21 884.99 220.13 883.33 222.17C881.66 224.20 880.19 226.63 878.89 228.86C877.60 231.08 876.66 233.10 875.55 235.51C874.44 237.91 873.22 240.87 872.21 243.28C871.19 245.69 870.27 248.31 869.44 249.97C868.61 251.64 868.06 252.54 867.23 253.28C866.39 254.02 865.45 254.44 864.43 254.41C863.40 254.37 862.19 253.92 861.08 253.08C859.97 252.25 859.07 251.02 857.78 249.39C856.48 247.76 854.97 245.41 853.31 243.28C851.64 241.16 849.63 238.76 847.78 236.63C845.94 234.51 844.08 232.38 842.22 230.53C840.37 228.67 838.51 226.81 836.66 225.51C834.81 224.21 832.95 223.34 831.10 222.75C829.25 222.16 827.76 222.03 825.54 221.97C823.32 221.91 820.54 222.09 817.76 222.40C814.99 222.71 811.86 223.23 808.89 223.84C805.93 224.45 802.54 225.43 799.99 226.06C797.44 226.68 796.29 226.96 793.61 227.61C790.93 228.26 787.13 229.04 783.89 229.94C780.65 230.85 777.41 231.89 774.17 233.06C770.93 234.22 767.36 235.45 764.44 236.94C761.53 238.44 759.26 239.99 756.67 242.00C754.07 244.01 751.35 246.54 748.89 249.00C746.43 251.46 744.16 254.19 741.89 256.78C739.62 259.37 737.48 262.16 735.28 264.56C733.07 266.95 730.81 269.09 728.67 271.17C726.53 273.24 724.39 275.06 722.44 277.00C720.50 278.94 718.75 280.50 717.00 282.83C715.25 285.17 713.63 287.63 711.94 291.00C710.26 294.37 708.51 298.65 706.89 303.06C705.27 307.46 703.65 312.71 702.22 317.44C700.80 322.18 699.50 327.17 698.33 331.44C697.17 335.72 696.19 339.94 695.22 343.11C694.25 346.29 692.95 349.27 692.50 350.50" fill="none" stroke="#a160de" stroke-width="2.20" stroke-linejoin="round" stroke-linecap="round" />
<line x1="811.00" y1="316.80" x2="860.30" y2="316.80" stroke="#d0544f" stroke-width="2.20" />
<line x1="811.00" y1="348.30" x2="860.30" y2="348.30" stroke="#a160de" stroke-width="2.20" />
<text transform="translate(865.50 323.00) scale(1.0550 1)" font-size="20.20" text-anchor="start" fill="#000" font-weight="bold" >PdAu/NH<tspan dy="5.76" font-size="14.14">2</tspan><tspan dy="-5.76">-W</tspan><tspan dy="5.76" font-size="14.14">18</tspan><tspan dy="-5.76">O</tspan><tspan dy="5.76" font-size="14.14">49</tspan></text>
<text transform="translate(865.50 354.80) scale(1.0550 1)" font-size="20.20" text-anchor="start" fill="#000" font-weight="bold" >PdAu/NH<tspan dy="5.76" font-size="14.14">2</tspan><tspan dy="-5.76">-WO</tspan><tspan dy="5.76" font-size="14.14">3</tspan></text>
<rect x="648.30" y="61.80" width="404.20" height="325.40" fill="none" stroke="#000" stroke-width="2.30"/>
<line x1="692.50" y1="387.20" x2="692.50" y2="393.70" stroke="#000" stroke-width="2.20" />
<line x1="782.50" y1="387.20" x2="782.50" y2="393.70" stroke="#000" stroke-width="2.20" />
<line x1="872.50" y1="387.20" x2="872.50" y2="393.70" stroke="#000" stroke-width="2.20" />
<line x1="962.50" y1="387.20" x2="962.50" y2="393.70" stroke="#000" stroke-width="2.20" />
<line x1="1052.50" y1="387.20" x2="1052.50" y2="393.70" stroke="#000" stroke-width="2.20" />
<line x1="647.50" y1="387.20" x2="647.50" y2="390.70" stroke="#000" stroke-width="2.20" />
<line x1="737.50" y1="387.20" x2="737.50" y2="390.70" stroke="#000" stroke-width="2.20" />
<line x1="827.50" y1="387.20" x2="827.50" y2="390.70" stroke="#000" stroke-width="2.20" />
<line x1="917.50" y1="387.20" x2="917.50" y2="390.70" stroke="#000" stroke-width="2.20" />
<line x1="1007.50" y1="387.20" x2="1007.50" y2="390.70" stroke="#000" stroke-width="2.20" />
<line x1="648.30" y1="61.82" x2="641.80" y2="61.82" stroke="#000" stroke-width="2.20" />
<line x1="648.30" y1="131.51" x2="641.80" y2="131.51" stroke="#000" stroke-width="2.20" />
<line x1="648.30" y1="201.20" x2="641.80" y2="201.20" stroke="#000" stroke-width="2.20" />
<line x1="648.30" y1="270.89" x2="641.80" y2="270.89" stroke="#000" stroke-width="2.20" />
<line x1="648.30" y1="340.58" x2="641.80" y2="340.58" stroke="#000" stroke-width="2.20" />
<line x1="648.30" y1="96.66" x2="644.80" y2="96.66" stroke="#000" stroke-width="2.20" />
<line x1="648.30" y1="166.35" x2="644.80" y2="166.35" stroke="#000" stroke-width="2.20" />
<line x1="648.30" y1="236.04" x2="644.80" y2="236.04" stroke="#000" stroke-width="2.20" />
<line x1="648.30" y1="305.74" x2="644.80" y2="305.74" stroke="#000" stroke-width="2.20" />
<line x1="648.30" y1="375.42" x2="644.80" y2="375.42" stroke="#000" stroke-width="2.20" />
<text transform="translate(692.50 420.00) scale(1.0550 1)" font-size="26.30" text-anchor="middle" fill="#000" font-weight="bold" >0.0</text>
<text transform="translate(782.50 420.00) scale(1.0550 1)" font-size="26.30" text-anchor="middle" fill="#000" font-weight="bold" >0.4</text>
<text transform="translate(872.50 420.00) scale(1.0550 1)" font-size="26.30" text-anchor="middle" fill="#000" font-weight="bold" >0.8</text>
<text transform="translate(962.50 420.00) scale(1.0550 1)" font-size="26.30" text-anchor="middle" fill="#000" font-weight="bold" >1.2</text>
<text transform="translate(1052.50 420.00) scale(1.0550 1)" font-size="26.30" text-anchor="middle" fill="#000" font-weight="bold" >1.6</text>
<text transform="translate(637.50 70.82) scale(1.1100 1)" font-size="26.30" text-anchor="end" fill="#000" font-weight="bold" >6</text>
<text transform="translate(637.50 140.51) scale(1.1100 1)" font-size="26.30" text-anchor="end" fill="#000" font-weight="bold" >3</text>
<text transform="translate(637.50 210.20) scale(1.1100 1)" font-size="26.30" text-anchor="end" fill="#000" font-weight="bold" >0</text>
<text transform="translate(637.50 279.89) scale(1.1100 1)" font-size="26.30" text-anchor="end" fill="#000" font-weight="bold" >-3</text>
<text transform="translate(637.50 349.58) scale(1.1100 1)" font-size="26.30" text-anchor="end" fill="#000" font-weight="bold" >-6</text>
<text transform="translate(851.00 450.00) scale(1.0550 1)" font-size="26.00" text-anchor="middle" fill="#000" font-weight="bold" >E (V vs. RHE)</text>
<text transform="translate(605.20 225.00) rotate(-90.00) scale(1.0550 1)" font-size="27.20" text-anchor="middle" fill="#000" font-weight="bold" ><tspan font-style="italic">j</tspan> (mA cm<tspan dy="-11.42" font-size="19.04">-2</tspan><tspan dy="11.42">)</tspan></text>
<text transform="translate(563.00 465.00) scale(1.0000 1)" font-size="61.00" text-anchor="start" fill="#000" font-weight="bold" >e</text>
<path d="M692.89 756.94C692.92 752.73 693.00 739.77 693.08 731.67C693.17 723.56 693.28 715.28 693.39 708.33C693.51 701.39 693.61 701.19 693.78 689.98C693.96 678.76 694.03 655.38 694.44 641.06C694.86 626.73 695.60 613.59 696.27 604.03C696.95 594.47 697.65 590.48 698.49 583.69C699.33 576.91 700.21 568.87 701.29 563.32C702.37 557.76 703.86 553.00 704.98 550.37C706.11 547.74 707.13 548.09 708.06 547.53C708.98 546.97 709.64 547.02 710.54 547.02C711.45 547.02 712.42 547.13 713.50 547.53C714.58 547.93 715.18 547.88 717.00 549.43C718.82 550.98 721.38 554.45 724.43 556.82C727.47 559.19 731.98 561.68 735.28 563.67C738.58 565.65 741.63 566.97 744.22 568.72C746.81 570.47 748.76 572.22 750.83 574.17C752.91 576.11 754.40 578.12 756.67 580.39C758.94 582.66 761.53 585.57 764.44 587.78C767.36 589.98 770.60 591.99 774.17 593.61C777.73 595.23 780.97 596.27 785.83 597.50C790.69 598.73 797.18 600.09 803.33 601.00C809.49 601.91 816.30 602.62 822.78 602.94C829.26 603.27 835.74 603.14 842.22 602.94C848.70 602.75 856.48 602.30 861.67 601.78C866.85 601.26 869.77 600.74 873.33 599.83C876.90 598.93 880.14 597.37 883.06 596.33C885.97 595.30 888.24 594.36 890.83 593.61C893.43 592.87 895.69 592.25 898.61 591.86C901.53 591.47 904.77 591.25 908.33 591.28C911.90 591.31 915.46 591.83 920.00 592.06C924.54 592.28 930.37 592.57 935.56 592.64C940.74 592.70 945.93 592.57 951.11 592.44C956.30 592.31 961.81 592.19 966.67 591.86C971.53 591.54 976.39 590.99 980.28 590.50C984.17 590.01 987.08 589.59 990.00 588.94C992.92 588.30 995.51 587.65 997.78 586.61C1000.05 585.57 1002.06 584.15 1003.61 582.72C1005.17 581.30 1006.53 577.54 1007.11 578.06C1007.69 578.57 1007.44 583.24 1007.11 585.83C1006.79 588.43 1006.07 591.02 1005.17 593.61C1004.26 596.20 1003.22 599.06 1001.67 601.39C1000.11 603.72 998.10 605.86 995.83 607.61C993.56 609.36 990.97 610.59 988.06 611.89C985.14 613.19 981.90 614.42 978.33 615.39C974.77 616.36 971.85 616.94 966.67 617.72C961.48 618.50 953.70 619.34 947.22 620.06C940.74 620.77 934.26 621.42 927.78 622.00C921.30 622.58 913.52 623.04 908.33 623.56C903.15 624.07 899.91 624.53 896.67 625.11C893.43 625.69 891.48 626.21 888.89 627.06C886.30 627.90 883.70 628.81 881.11 630.17C878.52 631.53 875.93 633.47 873.33 635.22C870.74 636.97 868.02 639.11 865.56 640.67C863.09 642.22 860.82 643.65 858.56 644.56C856.29 645.46 854.02 645.98 851.94 646.11C849.87 646.24 848.38 645.85 846.11 645.33C843.84 644.81 841.57 644.04 838.33 643.00C835.09 641.96 830.56 640.34 826.67 639.11C822.78 637.88 818.89 636.45 815.00 635.61C811.11 634.77 806.90 634.38 803.33 634.06C799.77 633.73 796.85 633.60 793.61 633.67C790.37 633.73 787.13 634.06 783.89 634.44C780.65 634.83 777.41 635.29 774.17 636.00C770.93 636.71 767.69 637.62 764.44 638.72C761.20 639.82 757.96 640.93 754.72 642.61C751.48 644.30 747.92 646.69 745.00 648.83C742.08 650.97 739.81 652.98 737.22 655.44C734.63 657.91 732.04 660.76 729.44 663.61C726.85 666.46 724.13 669.57 721.67 672.56C719.20 675.54 716.81 678.58 714.67 681.50C712.53 684.42 710.58 687.01 708.83 690.06C707.08 693.10 705.59 696.08 704.17 699.78C702.74 703.47 701.44 707.88 700.28 712.22C699.11 716.56 698.07 720.97 697.17 725.83C696.26 730.69 695.55 736.20 694.83 741.39C694.12 746.57 693.21 754.35 692.89 756.94" fill="none" stroke="#d0544f" stroke-width="2.20" stroke-linejoin="round" stroke-linecap="round" />
<path d="M692.89 756.94C692.99 752.73 693.18 739.77 693.47 731.67C693.76 723.56 694.26 715.28 694.64 708.33C695.01 701.39 695.47 697.11 695.73 689.98C695.99 682.85 696.04 673.71 696.19 665.56C696.35 657.40 696.28 650.69 696.66 641.06C697.04 631.42 697.72 617.02 698.49 607.77C699.26 598.51 700.21 591.39 701.29 585.52C702.37 579.66 703.60 575.81 704.98 572.57C706.37 569.33 708.07 567.46 709.61 566.08C711.15 564.69 712.54 564.25 714.24 564.25C715.94 564.25 717.79 565.25 719.80 566.08C721.81 566.91 723.98 568.39 726.29 569.23C728.61 570.06 731.21 570.47 733.68 571.09C736.15 571.72 738.64 571.63 741.11 572.96C743.58 574.29 745.73 576.82 748.50 579.07C751.27 581.32 754.36 584.14 757.76 586.46C761.15 588.77 764.55 591.10 768.88 592.95C773.20 594.80 777.95 596.04 783.69 597.58C789.44 599.11 796.82 601.01 803.33 602.17C809.85 603.32 816.30 603.85 822.78 604.50C829.26 605.15 836.71 605.67 842.22 606.06C847.73 606.44 851.94 606.77 855.83 606.83C859.72 606.90 862.64 606.77 865.56 606.44C868.47 606.12 870.74 605.73 873.33 604.89C875.93 604.05 878.52 602.75 881.11 601.39C883.70 600.03 886.43 597.95 888.89 596.72C891.35 595.49 893.30 594.68 895.89 594.00C898.48 593.32 901.40 592.87 904.44 592.64C907.49 592.41 910.28 592.41 914.17 592.64C918.06 592.87 922.92 593.68 927.78 594.00C932.64 594.32 938.15 594.55 943.33 594.58C948.52 594.62 953.70 594.49 958.89 594.19C964.07 593.90 969.58 593.45 974.44 592.83C979.31 592.22 984.17 591.41 988.06 590.50C991.94 589.59 995.19 588.62 997.78 587.39C1000.37 586.16 1002.06 584.67 1003.61 583.11C1005.17 581.56 1006.43 577.28 1007.11 578.06C1007.79 578.83 1007.89 584.54 1007.69 587.78C1007.50 591.02 1006.88 594.45 1005.94 597.50C1005.00 600.55 1003.74 603.66 1002.06 606.06C1000.37 608.45 998.17 610.33 995.83 611.89C993.50 613.44 990.97 614.32 988.06 615.39C985.14 616.46 981.90 617.46 978.33 618.31C974.77 619.15 971.85 619.76 966.67 620.44C961.48 621.12 953.70 621.87 947.22 622.39C940.74 622.91 933.94 623.10 927.78 623.56C921.62 624.01 914.94 624.59 910.28 625.11C905.61 625.63 902.82 626.02 899.78 626.67C896.73 627.31 894.46 627.96 892.00 629.00C889.54 630.04 887.33 631.33 885.00 632.89C882.67 634.44 880.27 636.52 878.00 638.33C875.73 640.15 873.46 642.29 871.39 643.78C869.31 645.27 867.37 646.44 865.56 647.28C863.74 648.12 862.12 648.57 860.50 648.83C858.88 649.09 857.58 649.09 855.83 648.83C854.08 648.57 852.27 648.06 850.00 647.28C847.73 646.50 845.14 645.20 842.22 644.17C839.31 643.13 836.39 642.06 832.50 641.06C828.61 640.05 823.43 638.82 818.89 638.14C814.35 637.46 809.49 637.10 805.28 636.97C801.06 636.84 797.50 637.07 793.61 637.36C789.72 637.65 785.83 638.11 781.94 638.72C778.06 639.34 773.97 640.08 770.28 641.06C766.58 642.03 763.02 643.13 759.78 644.56C756.54 645.98 753.62 647.60 750.83 649.61C748.05 651.62 745.65 653.95 743.06 656.61C740.46 659.27 737.68 662.70 735.28 665.56C732.88 668.41 730.81 671.26 728.67 673.72C726.53 676.19 724.39 678.39 722.44 680.33C720.50 682.28 718.75 683.57 717.00 685.39C715.25 687.20 713.63 688.89 711.94 691.22C710.26 693.56 708.38 696.54 706.89 699.39C705.40 702.24 704.23 704.77 703.00 708.33C701.77 711.90 700.54 716.56 699.50 720.78C698.46 724.99 697.62 729.40 696.78 733.61C695.94 737.82 695.09 742.17 694.44 746.06C693.80 749.94 693.15 755.13 692.89 756.94" fill="none" stroke="#a160de" stroke-width="2.20" stroke-linejoin="round" stroke-linecap="round" />
<line x1="811.00" y1="733.00" x2="860.30" y2="733.00" stroke="#d0544f" stroke-width="2.20" />
<line x1="811.00" y1="764.00" x2="860.30" y2="764.00" stroke="#a160de" stroke-width="2.20" />
<text transform="translate(865.50 740.30) scale(1.0550 1)" font-size="20.20" text-anchor="start" fill="#000" font-weight="bold" >PdAu/NH<tspan dy="5.76" font-size="14.14">2</tspan><tspan dy="-5.76">-W</tspan><tspan dy="5.76" font-size="14.14">18</tspan><tspan dy="-5.76">O</tspan><tspan dy="5.76" font-size="14.14">49</tspan></text>
<text transform="translate(865.50 771.40) scale(1.0550 1)" font-size="20.20" text-anchor="start" fill="#000" font-weight="bold" >PdAu/NH<tspan dy="5.76" font-size="14.14">2</tspan><tspan dy="-5.76">-WO</tspan><tspan dy="5.76" font-size="14.14">3</tspan></text>
<rect x="648.60" y="478.60" width="403.90" height="325.20" fill="none" stroke="#000" stroke-width="2.30"/>
<line x1="693.00" y1="803.80" x2="693.00" y2="810.30" stroke="#000" stroke-width="2.20" />
<line x1="782.88" y1="803.80" x2="782.88" y2="810.30" stroke="#000" stroke-width="2.20" />
<line x1="872.76" y1="803.80" x2="872.76" y2="810.30" stroke="#000" stroke-width="2.20" />
<line x1="962.64" y1="803.80" x2="962.64" y2="810.30" stroke="#000" stroke-width="2.20" />
<line x1="1052.52" y1="803.80" x2="1052.52" y2="810.30" stroke="#000" stroke-width="2.20" />
<line x1="648.06" y1="803.80" x2="648.06" y2="807.30" stroke="#000" stroke-width="2.20" />
<line x1="737.94" y1="803.80" x2="737.94" y2="807.30" stroke="#000" stroke-width="2.20" />
<line x1="827.82" y1="803.80" x2="827.82" y2="807.30" stroke="#000" stroke-width="2.20" />
<line x1="917.70" y1="803.80" x2="917.70" y2="807.30" stroke="#000" stroke-width="2.20" />
<line x1="1007.58" y1="803.80" x2="1007.58" y2="807.30" stroke="#000" stroke-width="2.20" />
<line x1="648.60" y1="478.48" x2="642.10" y2="478.48" stroke="#000" stroke-width="2.20" />
<line x1="648.60" y1="548.14" x2="642.10" y2="548.14" stroke="#000" stroke-width="2.20" />
<line x1="648.60" y1="617.80" x2="642.10" y2="617.80" stroke="#000" stroke-width="2.20" />
<line x1="648.60" y1="687.46" x2="642.10" y2="687.46" stroke="#000" stroke-width="2.20" />
<line x1="648.60" y1="757.12" x2="642.10" y2="757.12" stroke="#000" stroke-width="2.20" />
<line x1="648.60" y1="513.31" x2="645.10" y2="513.31" stroke="#000" stroke-width="2.20" />
<line x1="648.60" y1="582.97" x2="645.10" y2="582.97" stroke="#000" stroke-width="2.20" />
<line x1="648.60" y1="652.63" x2="645.10" y2="652.63" stroke="#000" stroke-width="2.20" />
<line x1="648.60" y1="722.29" x2="645.10" y2="722.29" stroke="#000" stroke-width="2.20" />
<line x1="648.60" y1="791.95" x2="645.10" y2="791.95" stroke="#000" stroke-width="2.20" />
<text transform="translate(693.00 837.00) scale(1.0550 1)" font-size="26.30" text-anchor="middle" fill="#000" font-weight="bold" >0.0</text>
<text transform="translate(782.88 837.00) scale(1.0550 1)" font-size="26.30" text-anchor="middle" fill="#000" font-weight="bold" >0.4</text>
<text transform="translate(872.76 837.00) scale(1.0550 1)" font-size="26.30" text-anchor="middle" fill="#000" font-weight="bold" >0.8</text>
<text transform="translate(962.64 837.00) scale(1.0550 1)" font-size="26.30" text-anchor="middle" fill="#000" font-weight="bold" >1.2</text>
<text transform="translate(1052.52 837.00) scale(1.0550 1)" font-size="26.30" text-anchor="middle" fill="#000" font-weight="bold" >1.6</text>
<text transform="translate(637.50 487.48) scale(1.1100 1)" font-size="26.30" text-anchor="end" fill="#000" font-weight="bold" >6</text>
<text transform="translate(637.50 557.14) scale(1.1100 1)" font-size="26.30" text-anchor="end" fill="#000" font-weight="bold" >3</text>
<text transform="translate(637.50 626.80) scale(1.1100 1)" font-size="26.30" text-anchor="end" fill="#000" font-weight="bold" >0</text>
<text transform="translate(637.50 696.46) scale(1.1100 1)" font-size="26.30" text-anchor="end" fill="#000" font-weight="bold" >-3</text>
<text transform="translate(637.50 766.12) scale(1.1100 1)" font-size="26.30" text-anchor="end" fill="#000" font-weight="bold" >-6</text>
<text transform="translate(851.00 867.00) scale(1.0550 1)" font-size="26.00" text-anchor="middle" fill="#000" font-weight="bold" >E (V vs. RHE)</text>
<text transform="translate(605.20 641.50) rotate(-90.00) scale(1.0550 1)" font-size="27.20" text-anchor="middle" fill="#000" font-weight="bold" ><tspan font-style="italic">j</tspan> (mA cm<tspan dy="-11.42" font-size="19.04">-2</tspan><tspan dy="11.42">)</tspan></text>
<text transform="translate(572.00 885.00) scale(1.0000 1)" font-size="61.00" text-anchor="start" fill="#000" font-weight="bold" >f</text>
<defs><linearGradient id="fr" x1="0" y1="0" x2="0" y2="1"><stop offset="0" stop-color="#f6aa9e"/><stop offset="0.1" stop-color="#fdb1a5"/><stop offset="0.45" stop-color="#fa9f91"/><stop offset="0.6" stop-color="#ea8c7e"/><stop offset="0.75" stop-color="#c86c5e"/><stop offset="0.9" stop-color="#9c4436"/><stop offset="1" stop-color="#80281c"/></linearGradient><linearGradient id="frs" x1="0" y1="0" x2="0" y2="1"><stop offset="0" stop-color="#d88a7e"/><stop offset="0.5" stop-color="#cc7668"/><stop offset="1" stop-color="#7a2a20"/></linearGradient><linearGradient id="fp" x1="0" y1="0" x2="0" y2="1"><stop offset="0" stop-color="#d5c4ec"/><stop offset="0.36" stop-color="#d2bcee"/><stop offset="0.53" stop-color="#b7a3d5"/><stop offset="0.7" stop-color="#8a78aa"/><stop offset="0.87" stop-color="#55456f"/><stop offset="1" stop-color="#3a2c50"/></linearGradient><linearGradient id="fps" x1="0" y1="0" x2="0" y2="1"><stop offset="0" stop-color="#b0a0cc"/><stop offset="0.45" stop-color="#9a88bc"/><stop offset="1" stop-color="#352848"/></linearGradient><linearGradient id="frl" x1="0" y1="0" x2="0" y2="1"><stop offset="0" stop-color="#f6aca2"/><stop offset="0.35" stop-color="#e89a8e"/><stop offset="0.7" stop-color="#a85a4e"/><stop offset="1" stop-color="#5e211a"/></linearGradient><linearGradient id="fpl" x1="0" y1="0" x2="0" y2="1"><stop offset="0" stop-color="#cdbce6"/><stop offset="0.35" stop-color="#c0b0da"/><stop offset="0.7" stop-color="#80709c"/><stop offset="1" stop-color="#2c2240"/></linearGradient></defs>
<line x1="721.50" y1="915.40" x2="1048.00" y2="915.40" stroke="#e3e3e3" stroke-width="1.10" />
<line x1="721.50" y1="915.40" x2="684.00" y2="949.90" stroke="#e3e3e3" stroke-width="1.10" />
<line x1="721.50" y1="981.60" x2="1048.00" y2="981.60" stroke="#e3e3e3" stroke-width="1.10" />
<line x1="721.50" y1="981.60" x2="684.00" y2="1016.10" stroke="#e3e3e3" stroke-width="1.10" />
<line x1="721.50" y1="1049.00" x2="1048.00" y2="1049.00" stroke="#e3e3e3" stroke-width="1.10" />
<line x1="721.50" y1="1049.00" x2="684.00" y2="1083.50" stroke="#e3e3e3" stroke-width="1.10" />
<line x1="721.50" y1="1115.20" x2="1048.00" y2="1115.20" stroke="#e3e3e3" stroke-width="1.10" />
<line x1="721.50" y1="1115.20" x2="684.00" y2="1149.70" stroke="#e3e3e3" stroke-width="1.10" />
<polygon points="779.1,968.8 789.4,959.8 789.4,1196.5 779.1,1205.5" fill="url(#frs)"/>
<polygon points="738.2,968.8 748.5,959.8 789.4,959.8 779.1,968.8" fill="#d68c80"/>
<rect x="738.2" y="968.8" width="40.9" height="236.7" fill="url(#fr)"/>
<polygon points="819.0,1088.5 829.3,1079.5 829.3,1196.5 819.0,1205.5" fill="url(#fps)"/>
<polygon points="779.1,1088.5 789.4,1079.5 829.3,1079.5 819.0,1088.5" fill="#b3a4cf"/>
<rect x="779.1" y="1088.5" width="39.9" height="117.0" fill="url(#fp)"/>
<polygon points="942.5,1006.5 952.8,997.5 952.8,1196.5 942.5,1205.5" fill="url(#frs)"/>
<polygon points="901.4,1006.5 911.7,997.5 952.8,997.5 942.5,1006.5" fill="#d68c80"/>
<rect x="901.4" y="1006.5" width="41.1" height="199.0" fill="url(#fr)"/>
<polygon points="983.0,1093.0 993.3,1084.0 993.3,1196.5 983.0,1205.5" fill="url(#fps)"/>
<polygon points="942.5,1093.0 952.8,1084.0 993.3,1084.0 983.0,1093.0" fill="#b3a4cf"/>
<rect x="942.5" y="1093.0" width="40.5" height="112.5" fill="url(#fp)"/>
<text transform="translate(770.50 950.00) scale(1.0200 1)" font-size="21.00" text-anchor="middle" fill="#000" font-weight="bold" >141.3</text>
<text transform="translate(810.50 1070.50) scale(1.0200 1)" font-size="21.00" text-anchor="middle" fill="#000" font-weight="bold" >69.7</text>
<text transform="translate(934.00 988.00) scale(1.0200 1)" font-size="21.00" text-anchor="middle" fill="#000" font-weight="bold" >118.6</text>
<text transform="translate(974.50 1074.50) scale(1.0200 1)" font-size="21.00" text-anchor="middle" fill="#000" font-weight="bold" >67.4</text>
<rect x="870.7" y="908.9" width="44.5" height="21.7" fill="url(#frl)"/>
<rect x="870.7" y="938.9" width="44.5" height="21.3" fill="url(#fpl)"/>
<text transform="translate(921.00 925.60) scale(1.0550 1)" font-size="18.50" text-anchor="start" fill="#000" font-weight="bold" >ECSA<tspan dy="5.55" font-size="12.95">Hupd</tspan></text>
<text transform="translate(921.00 955.20) scale(1.0550 1)" font-size="18.50" text-anchor="start" fill="#000" font-weight="bold" >ECSA<tspan dy="5.55" font-size="12.95">CO stripping</tspan></text>
<text transform="translate(672.00 1228.00) scale(1.0000 1)" font-size="26.30" text-anchor="end" fill="#000" font-weight="bold" >0</text>
<text transform="translate(672.00 1161.00) scale(1.0000 1)" font-size="26.30" text-anchor="end" fill="#000" font-weight="bold" >40</text>
<text transform="translate(672.00 1094.00) scale(1.0000 1)" font-size="26.30" text-anchor="end" fill="#000" font-weight="bold" >80</text>
<text transform="translate(672.00 1027.00) scale(1.0000 1)" font-size="26.30" text-anchor="end" fill="#000" font-weight="bold" >120</text>
<text transform="translate(672.00 960.00) scale(1.0000 1)" font-size="26.30" text-anchor="end" fill="#000" font-weight="bold" >160</text>
<text transform="translate(775.50 1248.20) scale(1.0550 1)" font-size="21.80" text-anchor="middle" fill="#000" font-weight="bold" >PdAu/NH<tspan dy="6.21" font-size="15.26">2</tspan><tspan dy="-6.21">-W</tspan><tspan dy="6.21" font-size="15.26">18</tspan><tspan dy="-6.21">O</tspan><tspan dy="6.21" font-size="15.26">49</tspan></text>
<text transform="translate(970.00 1248.20) scale(1.0550 1)" font-size="21.80" text-anchor="middle" fill="#000" font-weight="bold" >PdAu/NH<tspan dy="6.21" font-size="15.26">2</tspan><tspan dy="-6.21">-WO</tspan><tspan dy="6.21" font-size="15.26">3</tspan></text>
<text transform="translate(614.00 1070.00) rotate(-90.00) scale(1.0550 1)" font-size="27.00" text-anchor="middle" fill="#000" font-weight="bold" >ECSA (m<tspan dy="-11.34" font-size="18.90">2</tspan><tspan dy="11.34"> g</tspan><tspan dy="-11.34" font-size="18.90">-1</tspan><tspan dy="11.34">)</tspan></text>
</svg></body></html>
